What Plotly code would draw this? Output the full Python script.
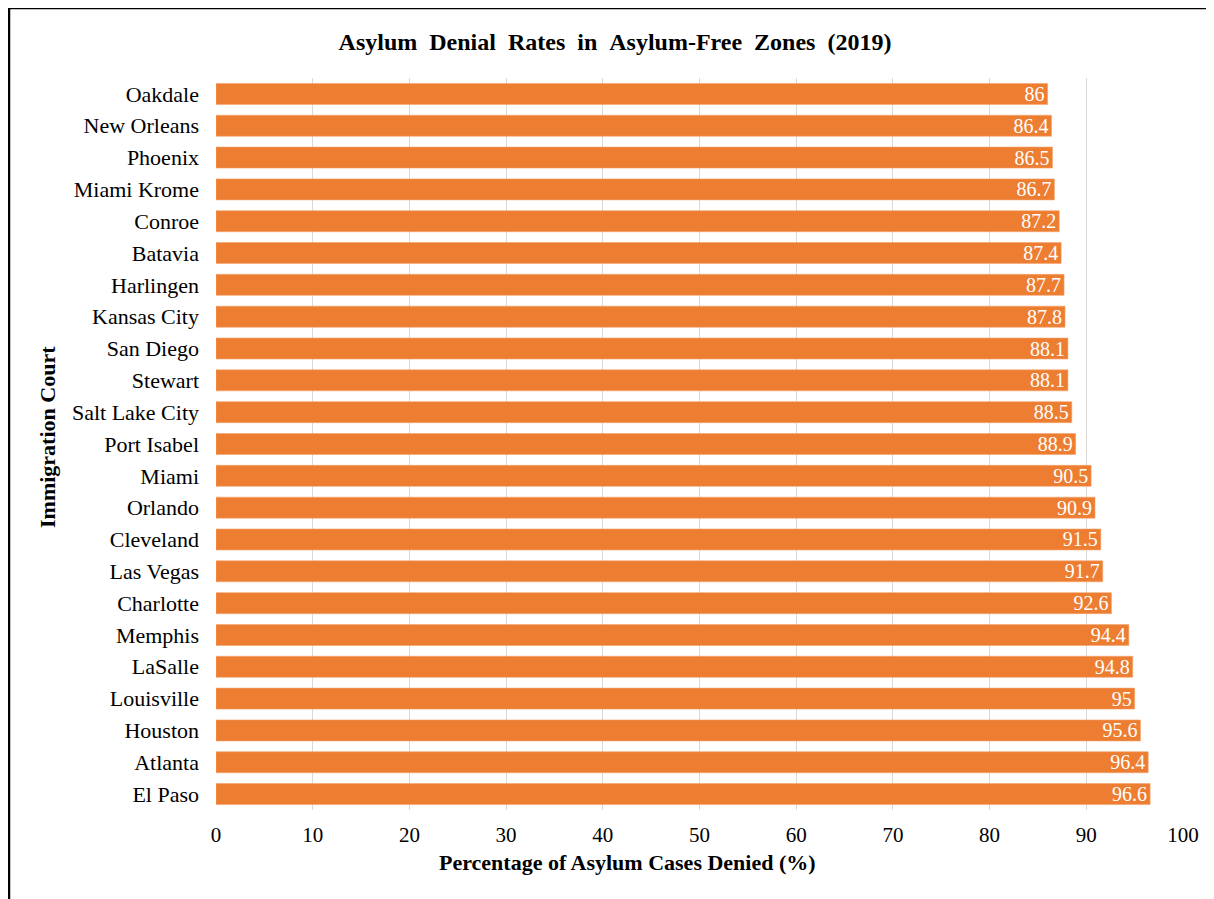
import plotly.graph_objects as go

courts = ["Oakdale", "New Orleans", "Phoenix", "Miami Krome", "Conroe", "Batavia",
          "Harlingen", "Kansas City", "San Diego", "Stewart", "Salt Lake City",
          "Port Isabel", "Miami", "Orlando", "Cleveland", "Las Vegas", "Charlotte",
          "Memphis", "LaSalle", "Louisville", "Houston", "Atlanta", "El Paso"]
denial_rates = [86, 86.4, 86.5, 86.7, 87.2, 87.4, 87.7, 87.8, 88.1, 88.1, 88.5,
                88.9, 90.5, 90.9, 91.5, 91.7, 92.6, 94.4, 94.8, 95, 95.6, 96.4, 96.6]
x_ticks = [0, 10, 20, 30, 40, 50, 60, 70, 80, 90, 100]

FONT = "Liberation Serif, Times New Roman, serif"
W, H = 1214, 899
OFF = 8  # page body offset
# desired page coords of plot area: x 216..1183, y 78..810
L = 216 - OFF
R = W - (1183 - OFF)
T = 78 - OFF
B = H - (810 - OFF)
pw, ph = W - L - R, H - T - B


def px_x(page_x):
    return (page_x - OFF - L) / pw


def px_y(page_y):
    return 1 - (page_y - OFF - T) / ph


fig = go.Figure(go.Bar(
    x=denial_rates, y=courts, orientation="h",
    marker=dict(color="#ED7D31", line=dict(color="#F4A46E", width=0.6)),
    text=[f"{v:g}" for v in denial_rates],
    textposition="inside", insidetextanchor="end", textangle=0,
    constraintext="none",
    textfont=dict(color="white", size=20, family=FONT),
    cliponaxis=False,
))

sp = " &nbsp;"
title_txt = sp.join(["Asylum", "Denial", "Rates", "in", "Asylum-Free", "Zones", "(2019)"])

fig.update_layout(
    width=W, height=H,
    margin=dict(l=L, r=R, t=T, b=B),
    paper_bgcolor="white", plot_bgcolor="white",
    bargap=0.34,
    font=dict(family=FONT, color="black", size=20),
    showlegend=False,
    title=dict(text=f"<b>{title_txt}</b>",
               x=(615 - OFF) / W, xref="container", xanchor="center",
               y=1 - (42 - OFF) / H, yref="container", yanchor="middle",
               font=dict(size=24, family=FONT, color="black")),
    xaxis=dict(range=[0, 100], tickvals=x_ticks, showgrid=True, gridcolor="#D9D9D9",
               gridwidth=1.3, zeroline=False, showline=False,
               tickfont=dict(size=21, family=FONT), ticklabelstandoff=10),
    yaxis=dict(categoryorder="array", categoryarray=courts, autorange="reversed",
               showgrid=False, zeroline=False, showline=False,
               tickfont=dict(size=22, family=FONT), ticklabelstandoff=16),
)

# x title
fig.add_annotation(text="<b>Percentage of Asylum Cases Denied (%)</b>",
                   xref="paper", yref="paper",
                   x=px_x(627), y=px_y(862),
                   xanchor="center", yanchor="middle", showarrow=False,
                   font=dict(size=22, family=FONT, color="black"))
# y title
fig.add_annotation(text="<b>Immigration Court</b>",
                   xref="paper", yref="paper",
                   x=px_x(47), y=px_y(437), textangle=-90,
                   xanchor="center", yanchor="middle", showarrow=False,
                   font=dict(size=22, family=FONT, color="black"))

# outer frame
fig.add_shape(type="rect", xref="paper", yref="paper",
              x0=px_x(9), x1=px_x(W + 40),
              y0=px_y(H + 40), y1=px_y(8),
              line=dict(color="black", width=2.5), fillcolor="rgba(0,0,0,0)",
              layer="above")

fig.write_html("out.html")
